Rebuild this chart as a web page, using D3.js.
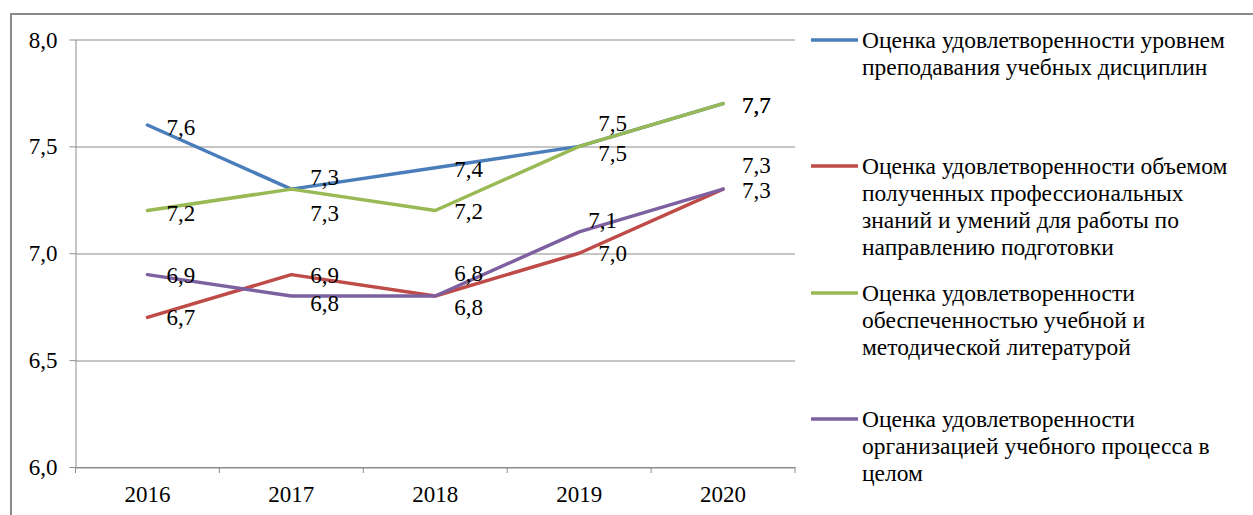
<!DOCTYPE html>
<html>
<head>
<meta charset="utf-8">
<script src="https://cdn.jsdelivr.net/npm/d3@7"></script>
<style>
	body { margin: 0; background: #fff; }
</style>
</head>
<body>
<div id="chart"></div>
<script>

/***********************************************************************/
//Data
/***********************************************************************/
const years = ['2016', '2017', '2018', '2019', '2020']

const seriesNames = [
	'Оценка удовлетворенности уровнем преподавания учебных дисциплин',
	'Оценка удовлетворенности объемом полученных профессиональных знаний и умений для работы по направлению подготовки',
	'Оценка удовлетворенности обеспеченностью учебной и методической литературой',
	'Оценка удовлетворенности организацией учебного процесса в целом'
]

const teachingValues = [7.6, 7.3, 7.4, 7.5, 7.7]
const knowledgeValues = [6.7, 6.9, 6.8, 7.0, 7.3]
const literatureValues = [7.2, 7.3, 7.2, 7.5, 7.7]
const processValues = [6.9, 6.8, 6.8, 7.1, 7.3]

const yTickValues = [6.0, 6.5, 7.0, 7.5, 8.0]

// legend text broken into lines as in the picture
const legendLines = [
	['Оценка удовлетворенности уровнем', 'преподавания учебных дисциплин'],
	['Оценка удовлетворенности объемом', 'полученных профессиональных', 'знаний и умений для работы по', 'направлению подготовки'],
	['Оценка удовлетворенности', 'обеспеченностью учебной и', 'методической литературой'],
	['Оценка удовлетворенности', 'организацией учебного процесса в', 'целом']
]

/***********************************************************************/
//Layout (label nudges kept apart from values)
/***********************************************************************/
const colors = ['#4a7ebb', '#be4b48', '#98b954', '#7d60a0']
const serif = 'Liberation Serif'

const labelDy = [
	[2, -12, 1, -23, 1],
	[0, 0, 11, 0, -24],
	[2, 24, 0, 7, 1],
	[0, 7, -23, -12, 1]
]
const labelDx = [
	[0, 0, 0, 0, 0],
	[0, 0, 0, 0, 0],
	[0, 0, 0, 0, 0],
	[0, 0, 0, -10, 0]
]

const series = seriesNames.map((name, i) => ({
	name,
	values: [teachingValues, knowledgeValues, literatureValues, processValues][i],
	color: colors[i],
	lines: legendLines[i]
}))

const width = 1253
const height = 515
const margin = { left: 75.5, top: 39.5 }
const plotW = 795 - margin.left
const plotH = 467 - margin.top

const svg = d3.select('#chart')
	.append('svg')
	.attr('width', width)
	.attr('height', height)

// outer frame
svg.append('rect')
	.attr('x', 11)
	.attr('y', 14)
	.attr('width', width + 20)
	.attr('height', height + 20)
	.attr('fill', 'none')
	.attr('stroke', '#8a8a8a')
	.attr('stroke-width', 2)

const g = svg.append('g')
	.attr('transform', 'translate(' + margin.left + ',' + margin.top + ')')

/***********************************************************************/
//Scales
/***********************************************************************/
const xScale = d3.scaleBand()
	.domain(years)
	.range([0, plotW])

const yScale = d3.scaleLinear()
	.domain([6, 8])
	.range([plotH, 0])

const xMid = d => xScale(d) + xScale.bandwidth() / 2
const fmt = d => d3.format('.1f')(d).replace('.', ',')

/***********************************************************************/
//Grid + Axes
/***********************************************************************/
g.append('g')
	.selectAll('line')
	.data(yTickValues)
	.join('line')
	.attr('x1', 0)
	.attr('x2', plotW)
	.attr('y1', d => Math.round(yScale(d)) + 0.5)
	.attr('y2', d => Math.round(yScale(d)) + 0.5)
	.attr('stroke', '#8c8c8c')
	.attr('stroke-width', 1)

const yAxis = d3.axisLeft(yScale)
	.tickValues(yTickValues)
	.tickFormat(fmt)
	.tickSize(6)
	.tickSizeOuter(0)
	.tickPadding(12)

const yAxisG = g.append('g').call(yAxis)
yAxisG.selectAll('line, path').attr('stroke', '#8c8c8c')
yAxisG.selectAll('text')
	.attr('font-family', serif)
	.attr('font-size', 23)
	.attr('fill', '#000')
	.attr('dy', '0.33em')

const xAxis = d3.axisBottom(xScale)
	.tickSize(0)
	.tickPadding(19)

const xAxisG = g.append('g')
	.attr('transform', 'translate(0,' + plotH + ')')
	.call(xAxis)
xAxisG.select('.domain').attr('stroke', '#8c8c8c')
xAxisG.selectAll('text')
	.attr('font-family', serif)
	.attr('font-size', 23)
	.attr('fill', '#000')

// category boundary ticks
const bounds = years.map(y => xScale(y)).concat([plotW])
xAxisG.selectAll('.bound')
	.data(bounds)
	.join('line')
	.attr('class', 'bound')
	.attr('x1', d => d)
	.attr('x2', d => d)
	.attr('y1', 0)
	.attr('y2', 6)
	.attr('stroke', '#8c8c8c')

/***********************************************************************/
//Lines
/***********************************************************************/
const line = d3.line()
	.x((d, i) => xMid(years[i]))
	.y(d => yScale(d))

g.selectAll('.series')
	.data(series)
	.join('path')
	.attr('class', 'series')
	.attr('d', d => line(d.values))
	.attr('fill', 'none')
	.attr('stroke', d => d.color)
	.attr('stroke-width', 3.5)
	.attr('stroke-linejoin', 'round')
	.attr('stroke-linecap', 'round')

/***********************************************************************/
//Data labels
/***********************************************************************/
series.forEach((s, si) => {
	g.append('g')
		.selectAll('text')
		.data(s.values)
		.join('text')
		.attr('x', (d, i) => xMid(years[i]) + 19 + labelDx[si][i])
		.attr('y', (d, i) => yScale(d) + labelDy[si][i])
		.attr('dy', '0.35em')
		.attr('font-family', serif)
		.attr('font-size', 23)
		.text(fmt)
})

/***********************************************************************/
//Legend
/***********************************************************************/
const legend = svg.append('g')
	.attr('transform', 'translate(811,40)')

const item = legend.selectAll('g')
	.data(series)
	.join('g')
	.attr('transform', (d, i) => 'translate(0,' + [0, 126, 253, 379][i] + ')')

item.append('line')
	.attr('x1', 0)
	.attr('x2', 47)
	.attr('stroke', d => d.color)
	.attr('stroke-width', 3.5)

item.each(function(d) {
	d3.select(this).selectAll('text')
		.data(d.lines)
		.join('text')
		.attr('x', 51)
		.attr('y', (t, i) => i * 26.8)
		.attr('dy', '0.35em')
		.attr('font-family', serif)
		.attr('font-size', 23.5)
		.text(t => t)
})
</script>
</body>
</html>
